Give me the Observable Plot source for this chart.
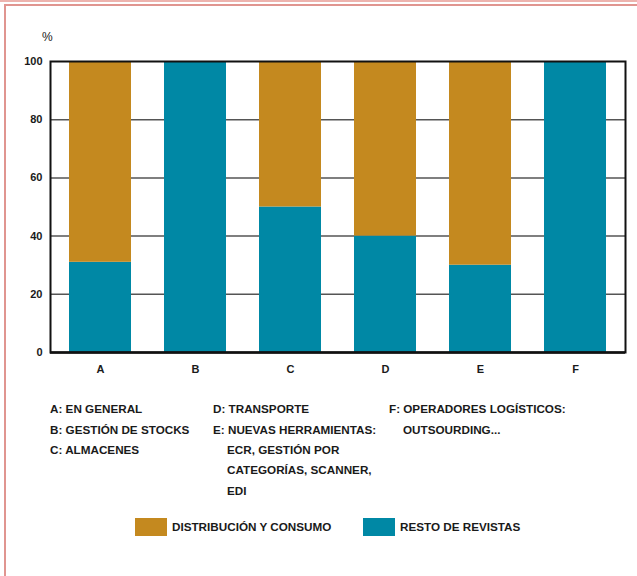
<!DOCTYPE html>
<html>
<head>
<meta charset="utf-8">
<script src="https://cdn.jsdelivr.net/npm/d3@7"></script>
<script src="https://cdn.jsdelivr.net/npm/@observablehq/plot@0.6"></script>
<style>
  html, body { margin:0; padding:0; background:#fff; }
  #wrap { position:relative; width:637px; height:576px; overflow:hidden; font-family:"Liberation Sans Narrow","Arial Narrow","Liberation Sans",sans-serif; font-weight:bold; color:#1a1a1a; }
  #topline { position:absolute; left:0; top:0; width:637px; height:2px; background:#EDB3AE; }
  #frame { position:absolute; left:4px; top:4px; width:640px; height:580px; border-top:2px solid #E09590; border-left:2px solid #E09590; }
  #chart { position:absolute; left:0; top:0; }
  .t { position:absolute; font-size:11.7px; line-height:14px; white-space:nowrap; transform:translateY(-50%); }
  #pct { position:absolute; left:42px; top:30px; font-family:"Liberation Sans",Arial,sans-serif; font-size:12px; font-weight:normal; }
  .sw { position:absolute; width:32px; height:18px; }
</style>
</head>
<body>
<div id="wrap">
  <div id="topline"></div>
  <div id="frame"></div>
  <div id="chart"></div>
  <div id="pct">%</div>
  <div id="notes"></div>
  <div id="legend"></div>
</div>
<script>
const categories = ["A","B","C","D","E","F"];
const series = ["RESTO DE REVISTAS","DISTRIBUCIÓN Y CONSUMO"];
const restoValues = [31, 100, 50, 40, 30, 100];
const distribucionValues = [69, 0, 50, 60, 70, 0];
const yTicks = [0, 20, 40, 60, 80, 100];
const colors = {"DISTRIBUCIÓN Y CONSUMO":"#C4891F","RESTO DE REVISTAS":"#0088A5"};

const notes = [
  {text:"A: EN GENERAL", x:50, y:409},
  {text:"B: GESTIÓN DE STOCKS", x:50, y:430},
  {text:"C: ALMACENES", x:50, y:450},
  {text:"D: TRANSPORTE", x:213, y:409},
  {text:"E: NUEVAS HERRAMIENTAS:", x:213, y:430},
  {text:"ECR, GESTIÓN POR", x:227, y:450},
  {text:"CATEGORÍAS, SCANNER,", x:227, y:470},
  {text:"EDI", x:227, y:491},
  {text:"F: OPERADORES LOGÍSTICOS:", x:389, y:409},
  {text:"OUTSOURDING...", x:403, y:430}
];
const legendItems = [
  {label:"DISTRIBUCIÓN Y CONSUMO", x:135},
  {label:"RESTO DE REVISTAS", x:363}
];

const data = [];
categories.forEach((c,i) => {
  data.push({cat:c, series:series[0], value:restoValues[i]});
  data.push({cat:c, series:series[1], value:distribucionValues[i]});
});

const chart = Plot.plot({
  width:637, height:380,
  marginLeft:50, marginRight:12, marginTop:61, marginBottom:28,
  style:{fontFamily:"'Liberation Sans', Arial, sans-serif", fontSize:"11px", fontWeight:"bold", color:"#1a1a1a", background:"transparent"},
  x:{domain:categories, paddingInner:0.35, paddingOuter:0.19, label:null},
  y:{domain:[0,100], label:null},
  color:{domain:series, range:series.map(s=>colors[s])},
  marks:[
    Plot.gridY(yTicks.slice(1,-1), {stroke:"#555", strokeOpacity:1, strokeWidth:1.5}),
    Plot.barY(data, {x:"cat", y:"value", fill:"series"}),
    Plot.frame({stroke:"#111", strokeWidth:2}),
    Plot.ruleY([0], {stroke:"#111", strokeWidth:2.5}),
    Plot.axisY({ticks:yTicks, tickSize:0, tickPadding:8, label:null}),
    Plot.axisX({tickSize:0, tickPadding:13, label:null})
  ]
});
document.getElementById("chart").appendChild(chart);

const notesEl = document.getElementById("notes");
notes.forEach(n => {
  const d = document.createElement("div");
  d.className = "t"; d.textContent = n.text;
  d.style.left = n.x + "px"; d.style.top = n.y + "px";
  notesEl.appendChild(d);
});
const legEl = document.getElementById("legend");
legendItems.forEach(it => {
  const s = document.createElement("div");
  s.className = "sw"; s.style.left = it.x + "px"; s.style.top = "518px"; s.style.background = colors[it.label];
  legEl.appendChild(s);
  const t = document.createElement("div");
  t.className = "t"; t.textContent = it.label;
  t.style.left = (it.x + 37) + "px"; t.style.top = "527px";
  legEl.appendChild(t);
});
</script>
</body>
</html>
